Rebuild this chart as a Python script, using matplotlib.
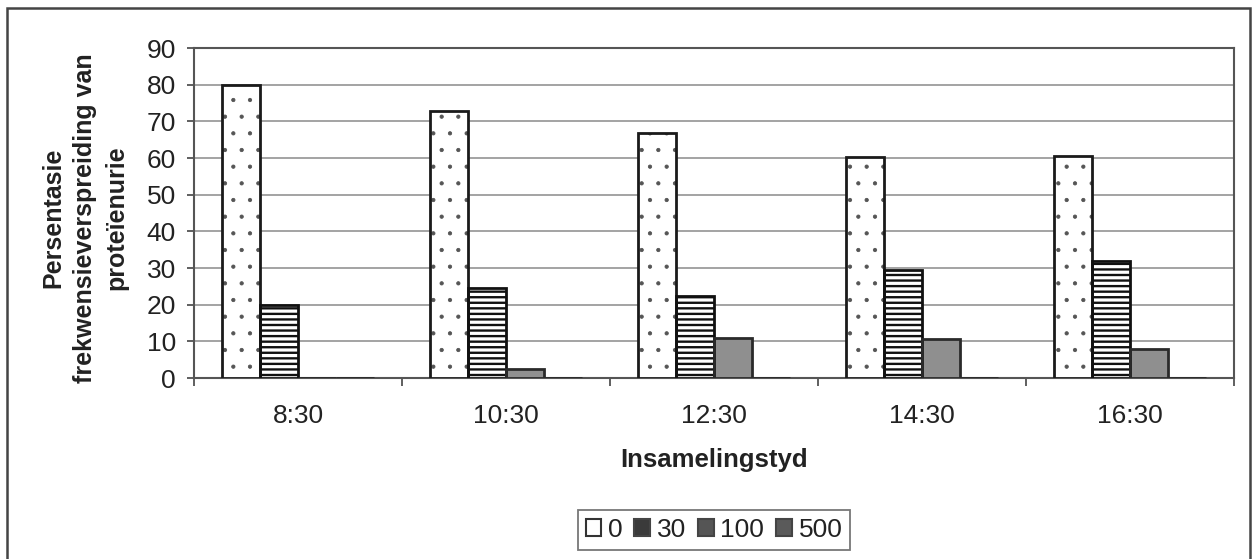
import matplotlib
matplotlib.use("Agg")
import matplotlib.pyplot as plt
from matplotlib.patches import Rectangle
import numpy as np

plt.rcParams['font.family'] = ['Liberation Sans', 'DejaVu Sans']

# Collection times and percentage of proteinuria per dipstick level
categories = ["8:30", "10:30", "12:30", "14:30", "16:30"]
series_labels = ["0", "30", "100", "500"]
values_0 = [80.0, 72.7, 66.7, 60.2, 60.5]
values_30 = [20.0, 24.5, 22.5, 29.5, 32.0]
values_100 = [0.0, 2.5, 11.0, 10.7, 7.8]
values_500 = [0.0, 0.0, 0.0, 0.0, 0.0]
y_ticks = [0, 10, 20, 30, 40, 50, 60, 70, 80, 90]

fig = plt.figure(figsize=(12.58, 5.59), dpi=100)
fig.patch.set_facecolor("white")
ax = fig.add_axes([194 / 1258, 1 - 378 / 559, (1234 - 194) / 1258, (378 - 48) / 559])

x = np.arange(len(categories))
w = 0.1827
# face, hatch colour, hatch, hatch width, outline colour
styles = [
    ("white", "#555555", ".", 0.6, "#1a1a1a"),
    ("white", "#111111", "---", 1.7, "#111111"),
    ("#8f8f8f", "#8f8f8f", None, 1.0, "#2a2a2a"),
    ("#5a5a5a", "#5a5a5a", None, 1.0, "#2a2a2a"),
]
all_values = [values_0, values_30, values_100, values_500]
for i, (vals, (fc, hc, hatch, hlw, ec)) in enumerate(zip(all_values, styles)):
    pos = x + (i - 1.5) * w
    # patterned fill
    fills = ax.bar(pos, vals, width=w, facecolor=fc, edgecolor=hc,
                   hatch=hatch, linewidth=0, zorder=3)
    for b in fills:
        if hasattr(b, "set_hatch_linewidth"):
            b.set_hatch_linewidth(hlw)
    # bar outline
    ax.bar(pos, vals, width=w, facecolor="none", edgecolor=ec,
           linewidth=2.0, zorder=4)

# legend swatches
handles = [
    Rectangle((0, 0), 1, 1, facecolor="white", edgecolor="#333333", linewidth=1.5),
    Rectangle((0, 0), 1, 1, facecolor="#3a3a3a", edgecolor="#444444", linewidth=1.5),
    Rectangle((0, 0), 1, 1, facecolor="#555555", edgecolor="#444444", linewidth=1.5),
    Rectangle((0, 0), 1, 1, facecolor="#5a5a5a", edgecolor="#444444", linewidth=1.5),
]

ax.set_xlim(-0.5, len(categories) - 0.5)
ax.set_ylim(0, 90)
ax.set_yticks(y_ticks)
ax.set_yticklabels([str(t) for t in y_ticks])
ax.yaxis.grid(True, color="#8a8a8a", linewidth=1.1, zorder=0)
ax.set_axisbelow(True)

ax.set_xticks(x)
ax.set_xticklabels(categories)
ax.set_xticks(np.arange(len(categories) + 1) - 0.5, minor=True)
ax.tick_params(axis="x", which="major", length=0, pad=19, labelsize=19, labelcolor="#222222")
ax.tick_params(axis="x", which="minor", length=6, width=1.2, color="#444444", direction="out")
ax.tick_params(axis="y", length=5, width=1.2, color="#444444", pad=8, labelsize=19, labelcolor="#222222")

for side in ["left", "right", "top", "bottom"]:
    ax.spines[side].set_color("#555555")
    ax.spines[side].set_linewidth(1.5)

ax.set_xlabel("Insamelingstyd", fontsize=18.5, fontweight="bold", color="#222222", labelpad=14)

fig.text(85 / 1258, 1 - 218 / 559,
         "Persentasie\nfrekwensieverspreiding van\nproteïenurie",
         rotation=90, ha="center", va="center", multialignment="center",
         fontsize=18, fontweight="bold", color="#222222", linespacing=1.4)

leg = fig.legend(handles=handles, labels=series_labels, loc="center",
                 bbox_to_anchor=(714 / 1258, 1 - 530 / 559), ncol=4,
                 fontsize=19, frameon=True, fancybox=False, edgecolor="#555555",
                 handlelength=0.6, handleheight=0.6, handletextpad=0.25,
                 columnspacing=0.45, borderpad=0.3, borderaxespad=0)
leg.get_frame().set_linewidth(1.3)
for t in leg.get_texts():
    t.set_color("#222222")

# outer chart frame
fig.patches.append(Rectangle((7 / 1258, -0.01), (1250 - 7) / 1258, 1 - 8 / 559 + 0.01,
                             transform=fig.transFigure, fill=False,
                             edgecolor="#444444", linewidth=1.8))

fig.savefig("out.png", dpi=100, facecolor="white")
